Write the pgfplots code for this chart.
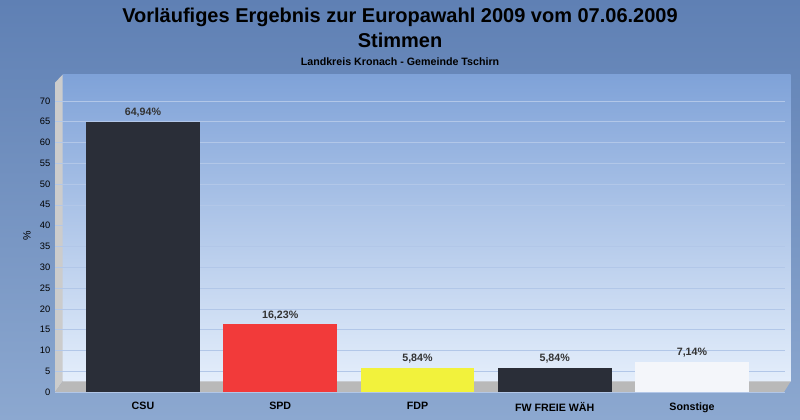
\documentclass[border=0pt]{standalone}
\usepackage{pgfplots}
\pgfplotsset{compat=1.18}
\usepackage{fontspec}
\setmainfont{Liberation Sans}
\definecolor{bgtop}{HTML}{5F80B4}
\definecolor{bgbot}{HTML}{8CA8D0}
\definecolor{pltop}{HTML}{7FA2D8}
\definecolor{plbot}{HTML}{E4EEFB}
\definecolor{csu}{HTML}{2A2E38}
\definecolor{spd}{HTML}{F23A3A}
\definecolor{fdp}{HTML}{F2F23C}
\definecolor{son}{HTML}{F4F6FA}
\begin{document}
\begin{tikzpicture}
\useasboundingbox (0,0) rectangle (600pt,315pt);
\shade[top color=bgtop,bottom color=bgbot] (0,0) rectangle (600pt,315pt);
\shade[top color=pltop,bottom color=plbot] (47pt,29pt) rectangle (593pt,259pt);
\fill[gray!40] (41.25pt,21pt) -- (47pt,29pt) -- (47pt,259pt) -- (41.25pt,253pt) -- cycle;
\fill[gray!55] (41.25pt,21pt) -- (588pt,21pt) -- (593pt,29pt) -- (47pt,29pt) -- cycle;
\node[font=\bfseries\fontsize{15}{15}\selectfont] at (300pt,302pt) {Vorläufiges Ergebnis zur Europawahl 2009 vom 07.06.2009};
\node[font=\bfseries\fontsize{15}{15}\selectfont] at (300pt,285pt) {Stimmen};
\node[font=\bfseries\fontsize{8}{8}\selectfont] at (300pt,269pt) {Landkreis Kronach - Gemeinde Tschirn};
\begin{axis}[at={(41.25pt,21pt)},anchor=south west,scale only axis,
  width=547.5pt,height=234pt,
  xmin=-0.641,xmax=4.678,ymin=0,ymax=75,
  axis line style={draw=none},
  ytick={0,5,...,70},
  tick style={draw=none},
  yticklabel style={font=\fontsize{7}{7}\selectfont},
  /pgf/number format/assume math mode=true,
  xtick={0,1,2,3,4},
  xticklabels={CSU,SPD,FDP,FW FREIE WÄH,Sonstige},
  xticklabel style={font=\bfseries\fontsize{8}{8}\selectfont},
  ymajorgrids,grid style={white!40!pltop,line width=0.3pt},
  ylabel={\%},ylabel style={font=\fontsize{8}{8}\selectfont},
  ybar,bar width=0.83,bar shift=0pt,
  nodes near coords={\pgfmathprintnumber[fixed,fixed zerofill,precision=2,use comma]{\pgfplotspointmeta}\%},
  nodes near coords style={font=\bfseries\fontsize{8}{8}\selectfont,color=black!80,yshift=0pt},
  clip=false]
\addplot[fill=csu,draw=none] coordinates {(0,64.94)};
\addplot[fill=spd,draw=none] coordinates {(1,16.23)};
\addplot[fill=fdp,draw=none] coordinates {(2,5.84)};
\addplot[fill=csu,draw=none] coordinates {(3,5.84)};
\addplot[fill=son,draw=none] coordinates {(4,7.14)};
\end{axis}
\end{tikzpicture}
\end{document}
